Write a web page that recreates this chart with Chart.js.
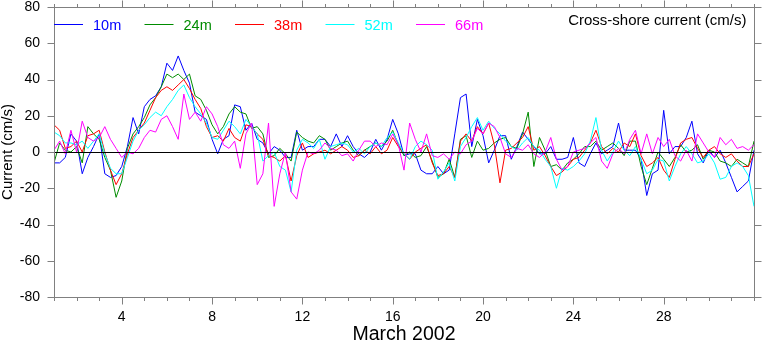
<!DOCTYPE html>
<html>
<head>
<meta charset="utf-8">
<title>Cross-shore current, March 2002</title>
<script src="https://cdn.jsdelivr.net/npm/chart.js@4/dist/chart.umd.min.js"></script>
<style>
  html, body { margin: 0; padding: 0; background: #fff; }
  #wrap { position: relative; width: 762px; height: 342px; }
</style>
</head>
<body>
<div id="wrap"><canvas id="current-chart"></canvas></div>
<script>
// ===== Data: 6-hourly cross-shore current (cm/s), day of March 2002 =====
const START_DAY = 1;
const STEP_DAYS = 0.25;

const depthLabels = ['10m', '24m', '38m', '52m', '66m'];
const depthColors = ['#0000ff', '#008c00', '#ff0000', '#00ffff', '#ff00ff'];

const xTickLabels = [4, 8, 12, 16, 20, 24, 28];
const yTickLabels = [-80, -60, -40, -20, 0, 20, 40, 60, 80];

const u10 = [
    -6, -6, -3, 10,   6, -12, -3, 3,   10, -12, -14, -13,   -8, 3, 19, 10,
    25, 29, 31, 36,   49, 45, 53, 45,   38, 22, 20, 18,   7, -1, 7, 9,
    26, 25, 12, 16,   7, 5, -1, 3,   1, -3, -3, 12,   1, 3, 3, 7,
    7, 3, 10, 3,   9, 3, -1, -3,   0, 7, 1, 7,   18, 10, -2, -1,
    -1, -10, -12, -12,   -8, -12, -10, 10,   30, 32, 3, 18,   9, -6, 1, 9,
    9, -4, 3, 11,   7, 3, -1, -1,   3, -4, -4, -3,   8, -6, -8, -1,
    5, -1, 1, 3,   16, 1, 1, 1,   -4, -24, -12, -10,   23, -1, 3, 3,
    8, 17, -1, -6,   1, -3, 1, -6,   -14, -22, -19, -16,   1
];
const u24 = [
    -6, 5, 1, 0,   3, -6, 14, 10,   7, -3, -10, -25,   -16, 2, 10, 14,
    19, 26, 30, 36,   43, 41, 43, 40,   43, 31, 29, 23,   15, 10, 14, 21,
    25, 22, 21, 13,   14, 10, -3, -2,   2, -1, -5, 11,   8, 6, 5, 9,
    7, 1, 3, 5,   6, 1, -2, 1,   3, 5, 3, 6,   12, 4, -2, 0,
    -3, -2, 3, -5,   -14, -12, -4, -14,   7, 9, -3, 6,   1, 2, 5, 7,
    8, 3, 2, 10,   22, -8, 8, 1,   -8, -7, -10, -6,   -4, -1, 3, 3,
    6, 1, 3, 5,   2, -2, 6, 6,   -8, -18, -9, 0,   -4, -8, -3, 4,
    0, 1, 4, -4,   1, 0, -5, -6,   -8, -4, -6, -8,   6
];
const u38 = [
    15, 12, 2, 3,   6, 0, 9, 10,   12, 0, -10, -18,   -12, -1, 8, 12,
    16, 23, 30, 34,   36, 34, 37, 40,   35, 29, 24, 14,   8, 9, 6, 13,
    8, 6, 15, 14,   10, 7, -2, -3,   -5, -2, -16, -2,   5, -3, -1, 0,
    1, -1, 1, 3,   1, -3, -2, 1,   -1, 3, -1, 1,   8, 3, -1, -4,
    0, 2, 4, -6,   -13, -12, -8, -14,   6, 10, 6, 14,   10, 16, 4, -17,
    1, 2, 5, 8,   14, 1, 3, -2,   -8, -13, -11, -8,   -4, -3, 1, 5,
    12, 3, -1, 2,   0, 5, 3, 10,   -2, -8, -6, -3,   -10, -14, -4, 5,
    7, 8, 2, -3,   1, 3, -1, -3,   -1, -5, -8, -8,   -1
];
const u52 = [
    11, 9, 5, 5,   4, 6, 2, 6,   10, -1, -9, -12,   -12, -3, 6, 12,
    15, 19, 22, 20,   25, 29, 34, 37,   30, 25, 21, 16,   8, 7, 12, 17,
    14, 10, 18, 14,   10, -5, -2, 0,   -8, -10, -22, 1,   7, 5, 2, 7,
    -4, 3, 4, 5,   4, 0, 2, -1,   3, 5, 3, 8,   11, 5, -1, -4,
    3, 6, 4, 1,   -15, -11, -6, -16,   3, 8, 14, 19,   12, 17, 13, 10,
    6, 3, 1, 5,   8, 3, 1, -4,   -8, -20, -9, -10,   -8, -5, -1, 6,
    19, 1, -5, 0,   6, 1, -2, 3,   -4, -12, -10, -4,   -5, -16, -8, -1,
    3, -1, -6, -5,   -1, -6, -15, -14,   -8, -6, -8, -13,   -30
];
const u66 = [
    1, 6, -1, 12,   0, 17, 8, 6,   8, 14, 7, 2,   -3, 0, -1, 2,
    8, 12, 11, 18,   20, 14, 7, 32,   18, 22, 17, 25,   21, 14, 4, 2,
    6, -9, 10, 16,   -18, -12, 16, -30,   -12, 0, -22, -26,   -10, 0, -1, 1,
    5, 2, 1, -2,   -1, -5, 1, 6,   6, 3, 5, 4,   10, 4, -10, 16,
    7, 0, 10, -2,   -3, -1, -4, 0,   -1, 4, 6, 13,   10, 16, 14, 8,
    -1, -3, 2, 1,   4, -1, -3, 0,   8, -4, -10, -8,   0, 1, 2, 5,
    8, -5, -9, -1,   2, -1, 7, 12,   -1, 10, -1, 8,   3, 7, -2, -5,
    1, -5, 10, 5,   0, -3, 8, 4,   7, 2, 3, 1,   4
];

const series = [u10, u24, u38, u52, u66];
const times = u10.map((_, i) => START_DAY + i * STEP_DAYS);

const FONT = '"Liberation Sans", Arial, Helvetica, sans-serif';
Chart.defaults.font.family = FONT;
Chart.defaults.color = '#000';

// ===== Frame, ticks and zero line =====
const framePlugin = {
    id: 'ncarFrame',
    afterDatasetsDraw(chart) {
        const { ctx, chartArea: a, scales: { x, y } } = chart;
        const left = Math.round(a.left) + 0.5;
        const right = Math.round(a.right) + 0.5;
        const top = Math.round(a.top) + 0.5;
        const bottom = Math.round(a.bottom) + 0.5;
        ctx.save();

        // zero line sits over the data
        const y0 = Math.round(y.getPixelForValue(0)) + 0.5;
        ctx.strokeStyle = '#000';
        ctx.lineWidth = 1.2;
        ctx.beginPath();
        ctx.moveTo(left, y0);
        ctx.lineTo(right, y0);
        ctx.stroke();

        ctx.strokeStyle = '#808080';
        ctx.lineWidth = 1;
        ctx.strokeRect(left, top, right - left, bottom - top);

        ctx.beginPath();
        x.ticks.forEach(t => {
            const px = Math.round(x.getPixelForValue(t.value)) + 0.5;
            const len = xTickLabels.includes(t.value) ? 7 : 3.5;
            ctx.moveTo(px, bottom); ctx.lineTo(px, bottom + len);
            ctx.moveTo(px, top); ctx.lineTo(px, top - len);
        });
        y.ticks.forEach(t => {
            const py = Math.round(y.getPixelForValue(t.value)) + 0.5;
            const len = yTickLabels.includes(t.value) ? 7 : 3.5;
            ctx.moveTo(left, py); ctx.lineTo(left - len, py);
            ctx.moveTo(right, py); ctx.lineTo(right + len, py);
        });
        ctx.stroke();
        ctx.restore();
    }
};

// ===== Legend row and panel label =====
const legendPlugin = {
    id: 'depthLegend',
    afterDraw(chart) {
        const { ctx, chartArea: a } = chart;
        const ly = a.top + 17.5;
        ctx.save();
        ctx.font = `14.5px ${FONT}`;
        ctx.textBaseline = 'middle';
        chart.data.datasets.forEach((ds, i) => {
            const x0 = a.left + i * 90.5;
            ctx.strokeStyle = ds.borderColor;
            ctx.lineWidth = 1;
            ctx.beginPath();
            ctx.moveTo(x0, ly);
            ctx.lineTo(x0 + 29, ly);
            ctx.stroke();
            ctx.fillStyle = ds.borderColor;
            ctx.fillText(ds.label, x0 + 39, ly + 1);
        });
        ctx.font = `15px ${FONT}`;
        ctx.textAlign = 'right';
        ctx.fillStyle = '#000';
        ctx.fillText('Cross-shore current (cm/s)', a.right - 7.5, a.top + 14);
        ctx.restore();
    }
};

const datasets = series.map((values, i) => ({
    label: depthLabels[i],
    data: values.map((v, k) => ({ x: times[k], y: v })),
    borderColor: depthColors[i],
    borderWidth: 1,
    pointRadius: 0,
    tension: 0,
    fill: false,
    order: series.length - i
}));

new Chart(document.getElementById('current-chart'), {
    type: 'line',
    data: { datasets },
    plugins: [framePlugin, legendPlugin],
    options: {
        responsive: true,
        maintainAspectRatio: false,
        animation: false,
        layout: { padding: { top: 7, right: 8, left: 0, bottom: 0 } },
        plugins: {
            legend: { display: false },
            tooltip: { enabled: false }
        },
        scales: {
            x: {
                type: 'linear',
                min: 1,
                max: 32,
                afterFit: s => {
                    s.height = 45;
                    s.paddingLeft = 0;
                    s.paddingRight = 0;
                },
                grid: { display: false, drawTicks: false },
                border: { display: false },
                ticks: {
                    stepSize: 1,
                    autoSkip: false,
                    maxRotation: 0,
                    padding: 12,
                    font: { size: 14 },
                    color: '#000',
                    callback: v => xTickLabels.includes(v) ? String(v) : ''
                },
                title: {
                    display: true,
                    text: 'March 2002',
                    font: { size: 19.5, lineHeight: 1 },
                    color: '#000',
                    padding: { top: 0, bottom: -2 }
                }
            },
            y: {
                min: -80,
                max: 80,
                afterFit: s => {
                    s.width = 54;
                    s.paddingTop = 0;
                    s.paddingBottom = 0;
                },
                grid: { display: false, drawTicks: false },
                border: { display: false },
                ticks: {
                    stepSize: 10,
                    padding: 14,
                    font: { size: 14 },
                    color: '#000',
                    callback: v => yTickLabels.includes(v) ? String(v) : ''
                },
                title: {
                    display: true,
                    text: 'Current (cm/s)',
                    font: { size: 15, lineHeight: 1.1 },
                    color: '#000',
                    padding: { top: 0, bottom: 0 }
                }
            }
        }
    }
});
</script>
</body>
</html>
